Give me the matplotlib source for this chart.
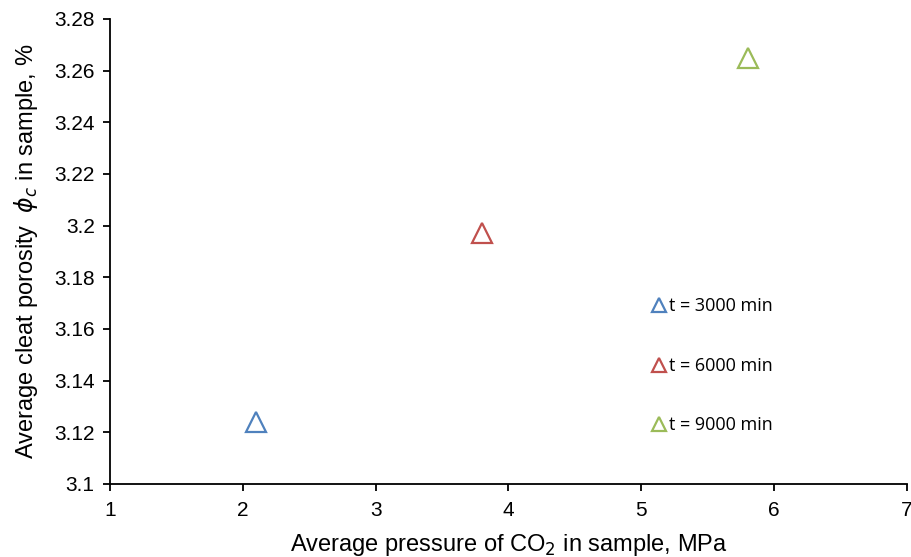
import matplotlib
matplotlib.use("Agg")
import matplotlib.pyplot as plt
from matplotlib.lines import Line2D

pressure = [2.1, 3.8, 5.8]
porosity = [3.124, 3.197, 3.265]
labels = ["t = 3000 min", "t = 6000 min", "t = 9000 min"]
colors = ["#4F81BD", "#C0504D", "#9BBB59"]
xticks = [1, 2, 3, 4, 5, 6, 7]
yticks = [3.1, 3.12, 3.14, 3.16, 3.18, 3.2, 3.22, 3.24, 3.26, 3.28]
ytick_labels = ["3.1", "3.12", "3.14", "3.16", "3.18", "3.2", "3.22", "3.24", "3.26", "3.28"]

plt.rcParams['font.family'] = ['Liberation Sans', 'DejaVu Sans']
plt.rcParams['mathtext.fontset'] = 'dejavusans'

fig = plt.figure(figsize=(9.12, 5.57), dpi=100)
ax = fig.add_axes([110/912, 1-484/557, 797/912, 465/557])

for x, y, c in zip(pressure, porosity, colors):
    ax.plot([x], [y], linestyle='none', marker='^', markersize=15,
            markerfacecolor='none', markeredgecolor=c, markeredgewidth=1.6)

ax.set_xlim(1, 7)
ax.set_ylim(3.1, 3.28)
ax.set_xticks(xticks)
ax.set_yticks(yticks)
ax.set_yticklabels(ytick_labels)
ax.tick_params(axis='both', labelsize=15, length=5, width=1.3, direction='out')
ax.tick_params(axis='x', pad=7)
ax.tick_params(axis='y', pad=6)
for s in ['top', 'right']:
    ax.spines[s].set_visible(False)
for s in ['left', 'bottom']:
    ax.spines[s].set_linewidth(1.3)

ax.set_xlabel("Average pressure of CO$_2$ in sample, MPa", fontsize=17, labelpad=9)
ax.set_ylabel(r"Average cleat porosity  $\phi_c$ in sample, %", fontsize=17, labelpad=10)

handles = [Line2D([], [], linestyle='none', marker='^', markersize=10,
                  markerfacecolor='none', markeredgecolor=c, markeredgewidth=1.6)
           for c in colors]
leg = ax.legend(handles, labels, loc='center left', bbox_to_anchor=(0.66, 0.254),
                frameon=False, labelspacing=2.3,
                handlelength=0.8, handletextpad=0.15,
                prop={'family': ['Open Sans', 'DejaVu Sans'], 'size': 13})

fig.savefig("out.png", dpi=100)
